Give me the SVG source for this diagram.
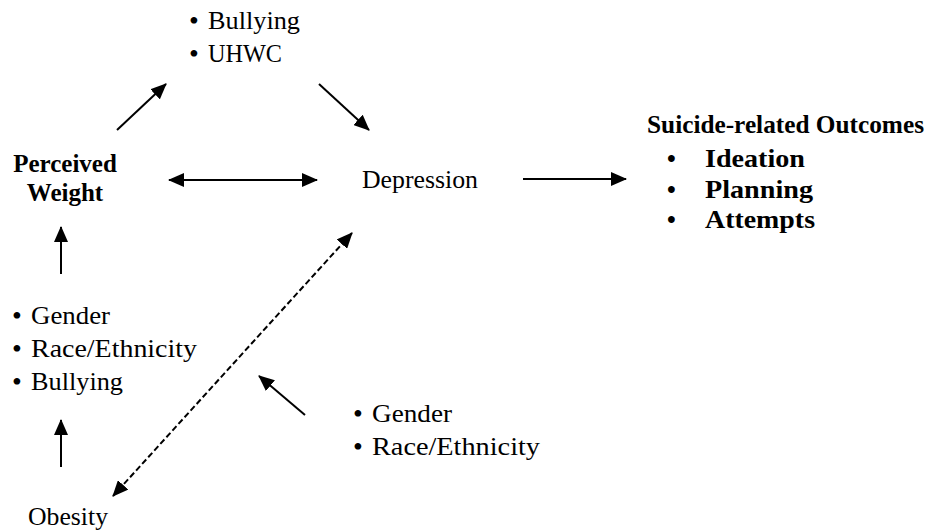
<svg xmlns="http://www.w3.org/2000/svg" width="941" height="531" viewBox="0 0 941 531">
<style>
text{font-family:'Liberation Serif','DejaVu Serif',serif;font-size:25px;fill:#000}
.b{font-weight:bold}
.u{font-size:28px}
.c{stroke:#000;stroke-width:2;fill:none}
.d{stroke-dasharray:6 3}
</style>
<defs>
<marker id="ah" markerUnits="userSpaceOnUse" markerWidth="17" markerHeight="14" refX="15" refY="7" orient="auto-start-reverse">
<path d="M0,0 L16,7 L0,14 z" fill="#000" stroke="none"/>
</marker>
</defs>
<rect width="941" height="531" fill="#fff"/>
<g id="connectors">
<line class="c" x1="117" y1="130" x2="166" y2="84" marker-end="url(#ah)"/>
<line class="c" x1="319" y1="84" x2="369" y2="130" marker-end="url(#ah)"/>
<line class="c" x1="169" y1="180" x2="317" y2="180" marker-start="url(#ah)" marker-end="url(#ah)"/>
<line class="c" x1="523" y1="179" x2="626" y2="179" marker-end="url(#ah)"/>
<line class="c" x1="61" y1="274" x2="61" y2="227" marker-end="url(#ah)"/>
<line class="c" x1="61" y1="467" x2="61" y2="420" marker-end="url(#ah)"/>
<line class="c d" x1="352" y1="233" x2="113" y2="496" marker-start="url(#ah)" marker-end="url(#ah)"/>
<line class="c" x1="305" y1="415" x2="259" y2="376" marker-end="url(#ah)"/>
</g>
<g id="mediators-top">
<text class="u" x="189" y="30">•</text><text x="208" y="29" textLength="92" lengthAdjust="spacingAndGlyphs">Bullying</text>
<text class="u" x="189" y="63">•</text><text x="208" y="62" textLength="74" lengthAdjust="spacingAndGlyphs">UHWC</text>
</g>
<g id="perceived-weight">
<text class="b" x="65" y="172" text-anchor="middle">Perceived</text>
<text class="b" x="65" y="201" text-anchor="middle">Weight</text>
</g>
<g id="depression">
<text x="362" y="188" textLength="116" lengthAdjust="spacingAndGlyphs">Depression</text>
</g>
<g id="outcomes">
<text class="b" x="647" y="133" textLength="277" lengthAdjust="spacingAndGlyphs">Suicide-related Outcomes</text>
<text class="b" x="667" y="167">•</text><text class="b" x="705" y="167" textLength="100" lengthAdjust="spacingAndGlyphs">Ideation</text>
<text class="b" x="667" y="198">•</text><text class="b" x="705" y="198" textLength="108" lengthAdjust="spacingAndGlyphs">Planning</text>
<text class="b" x="667" y="228">•</text><text class="b" x="705" y="228" textLength="110" lengthAdjust="spacingAndGlyphs">Attempts</text>
</g>
<g id="covariates-left">
<text class="u" x="12" y="325">•</text><text x="31" y="324" textLength="79" lengthAdjust="spacingAndGlyphs">Gender</text>
<text class="u" x="12" y="358">•</text><text x="31" y="357" textLength="166" lengthAdjust="spacingAndGlyphs">Race/Ethnicity</text>
<text class="u" x="12" y="391">•</text><text x="31" y="390" textLength="92" lengthAdjust="spacingAndGlyphs">Bullying</text>
</g>
<g id="covariates-right">
<text class="u" x="353" y="423">•</text><text x="372" y="422" textLength="80" lengthAdjust="spacingAndGlyphs">Gender</text>
<text class="u" x="353" y="456">•</text><text x="372" y="455" textLength="168" lengthAdjust="spacingAndGlyphs">Race/Ethnicity</text>
</g>
<g id="obesity">
<text x="28" y="525" textLength="80" lengthAdjust="spacingAndGlyphs">Obesity</text>
</g>
</svg>
